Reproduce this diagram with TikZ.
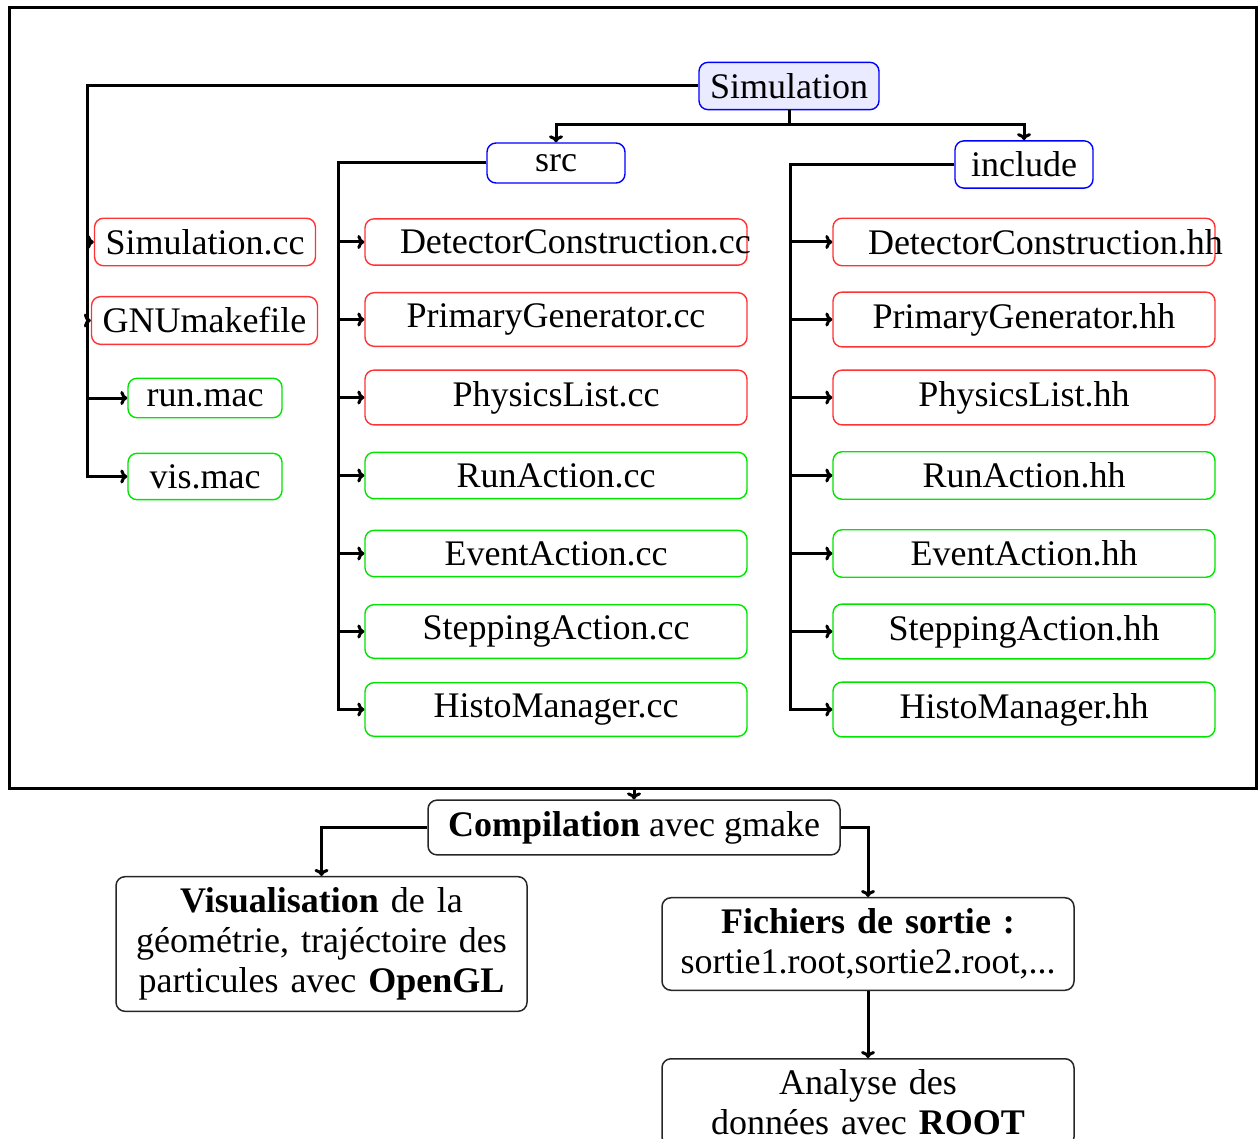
\documentclass[tikz,border=0pt]{standalone}
\usepackage{fontspec}
\setmainfont{Liberation Serif}
\usetikzlibrary{arrows.meta}
\begin{document}
\begin{tikzpicture}[x=1pt,y=-1pt,
  font=\fontsize{36}{40}\selectfont,
  conn/.style={line width=3pt,-{To[length=7pt,width=14pt]}},
  plain/.style={line width=3pt},
  base/.style={draw,rounded corners=9pt,line width=1.4pt,inner xsep=11pt,inner ysep=11pt},
  topb/.style={base,draw=blue},
  redf/.style={base,draw=red!80},
  greenf/.style={base,draw=green!90!black},
  wide/.style={text width=312pt,align=center,inner xsep=35pt},
  bot/.style={base,draw=black!85,line width=1.5pt,inner xsep=11pt}]
\useasboundingbox (0,0) rectangle (1258,1139);

% outer frame
\node[draw,line width=3pt,inner sep=0pt,minimum width=1247pt,minimum height=780pt] (frame) at (632.5,398) {};

% top level
\node[topb,fill=blue!8] (sim) at (789,86) {Simulation};
\node[topb,minimum width=138pt,minimum height=40pt] (src) at (556,163) {src};
\node[topb,minimum width=138pt] (inc) at (1024,164.5) {include};

% left column
\node[redf] (simcc) at (205,242) {Simulation.cc};
\node[redf] (gnu) at (204.5,320.5) {GNUmakefile};
\node[greenf,minimum width=154pt] (run) at (205,398) {run.mac};
\node[greenf,minimum width=154pt] (vis) at (205,476.5) {vis.mac};

% src files
\node[redf,wide] (s1) at (556,242) {\mbox{DetectorConstruction.cc}};
\node[redf,wide] (s2) at (556,319.5) {PrimaryGenerator.cc};
\node[redf,wide] (s3) at (556,397.5) {PhysicsList.cc};
\node[greenf,wide] (s4) at (556,475.5) {RunAction.cc};
\node[greenf,wide] (s5) at (556,553.5) {EventAction.cc};
\node[greenf,wide] (s6) at (556,631.5) {SteppingAction.cc};
\node[greenf,wide] (s7) at (556,709.5) {HistoManager.cc};

% include files
\node[redf,wide] (h1) at (1024,242) {\mbox{DetectorConstruction.hh}};
\node[redf,wide] (h2) at (1024,319.5) {PrimaryGenerator.hh};
\node[redf,wide] (h3) at (1024,397.5) {PhysicsList.hh};
\node[greenf,wide] (h4) at (1024,475.5) {RunAction.hh};
\node[greenf,wide] (h5) at (1024,553.5) {EventAction.hh};
\node[greenf,wide] (h6) at (1024,631.5) {SteppingAction.hh};
\node[greenf,wide] (h7) at (1024,709.5) {HistoManager.hh};

% bottom part
\node[bot,minimum width=412pt] (comp) at (634,827.5) {\textbf{Compilation} avec gmake};
\node[bot,text width=389pt,align=center] (visu) at (321.5,944) {\textbf{Visualisation} de la\\ g\'eom\'etrie, traj\'ectoire des\\ particules avec \textbf{OpenGL}};
\node[bot,text width=390pt,align=center] (fich) at (868,944) {\textbf{Fichiers de sortie :}\\ sortie1.root,sortie2.root,...};
\node[bot,text width=390pt,align=center,anchor=north] (ana) at (868,1058) {Analyse des\\ donn\'ees avec \textbf{ROOT}};

% bus coordinates
\coordinate (lx) at (87,0);
\coordinate (hy) at (0,125);
\coordinate (sx) at (338,0);
\coordinate (ix) at (790,0);

% connectors top
\draw[conn] (sim.west) -| (lx |- vis.west) -- (vis.west);
\draw[conn] (lx |- simcc.west) -- (simcc.west);
\draw[conn] (lx |- gnu.west) -- (gnu.west);
\draw[conn] (lx |- run.west) -- (run.west);

\draw[plain] (sim.south) -- (sim.south |- hy);
\draw[conn] (sim.south |- hy) -| (src.north);
\draw[conn] (sim.south |- hy) -| (inc.north);

\draw[conn] (src.west) -| (sx |- s7.west) -- (s7.west);
\foreach \n in {s1,s2,s3,s4,s5,s6}{\draw[conn] (sx |- \n.west) -- (\n.west);}

\draw[conn] (inc.west) -| (ix |- h7.west) -- (h7.west);
\foreach \n in {h1,h2,h3,h4,h5,h6}{\draw[conn] (ix |- \n.west) -- (\n.west);}

% connectors bottom
\draw[conn] (comp.north |- frame.south) -- (comp.north);
\draw[conn] (comp.west) -| (visu.north);
\draw[conn] (comp.east) -| (fich.north);
\draw[conn] (fich.south) -- (ana.north);
\end{tikzpicture}
\end{document}
